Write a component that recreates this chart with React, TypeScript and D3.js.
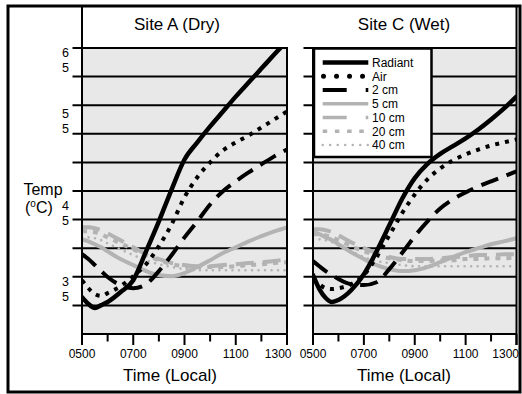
import React from "react";
import * as d3 from "d3";

// ---- data ----
const hours = [5, 5.25, 5.5, 5.75, 6, 6.5, 7, 7.5, 8, 8.5, 9, 9.5, 10, 10.5, 11, 11.5, 12, 12.5, 13];
const seriesNames = ["Radiant", "Air", "2 cm", "5 cm", "10 cm", "20 cm", "40 cm"];
const panelTitles = ["Site A (Dry)", "Site C (Wet)"];
const xTickValues = [5, 7, 9, 11, 13];
const xTickLabels = ["0500", "0700", "0900", "1100", "1300"];
const xMinorTicks = [6, 8, 10, 12];
const yGridValues = [1, 2, 3, 4, 5, 6, 7, 8, 9, 10];
const yTickLabels = ["65", "55", "45", "35"];
const yTickLabelPositions = [9.59, 7.45, 4.23, 1.57];

// Site A (Dry), values in chart grid units (0 = bottom, 10 = top)
const siteARadiant = [1.29, 1.05, 0.91, 1.01, 1.12, 1.46, 1.88, 2.89, 3.94, 5.06, 6.1, 6.7, 7.26, 7.78, 8.3, 8.79, 9.28, 9.77, 10.25];
const siteAAir = [1.88, 1.6, 1.4, 1.33, 1.43, 1.67, 2.02, 2.44, 3.07, 3.84, 4.78, 5.48, 6.0, 6.42, 6.7, 6.94, 7.22, 7.5, 7.78];
const siteA2cm = [2.79, 2.62, 2.41, 2.2, 1.99, 1.71, 1.6, 1.74, 2.2, 2.76, 3.38, 3.94, 4.53, 4.99, 5.34, 5.65, 5.93, 6.21, 6.45];
const siteA5cm = [3.31, 3.24, 3.14, 3.03, 2.89, 2.62, 2.41, 2.2, 2.06, 2.02, 2.13, 2.34, 2.58, 2.83, 3.03, 3.24, 3.42, 3.59, 3.73];
const siteA10cm = [3.73, 3.73, 3.7, 3.63, 3.52, 3.28, 3.03, 2.79, 2.62, 2.48, 2.41, 2.37, 2.37, 2.41, 2.44, 2.48, 2.51, 2.55, 2.62];
const siteA20cm = [3.59, 3.59, 3.56, 3.49, 3.38, 3.17, 2.96, 2.76, 2.58, 2.44, 2.37, 2.34, 2.34, 2.34, 2.37, 2.41, 2.44, 2.48, 2.51];
const siteA40cm = [3.38, 3.38, 3.35, 3.28, 3.17, 2.96, 2.76, 2.58, 2.44, 2.34, 2.27, 2.23, 2.23, 2.23, 2.23, 2.23, 2.23, 2.23, 2.23];

// Site C (Wet)
const siteCRadiant = [2.06, 1.57, 1.26, 1.12, 1.19, 1.53, 2.09, 2.89, 3.8, 4.72, 5.45, 5.95, 6.3, 6.57, 6.84, 7.15, 7.5, 7.88, 8.3];
const siteCAir = [1.92, 1.74, 1.6, 1.57, 1.6, 1.74, 2.06, 2.69, 3.45, 4.22, 4.88, 5.41, 5.79, 6.07, 6.28, 6.45, 6.59, 6.7, 6.8];
const siteC2cm = [2.55, 2.37, 2.2, 2.06, 1.92, 1.74, 1.71, 1.81, 2.27, 2.83, 3.42, 3.94, 4.39, 4.71, 4.95, 5.16, 5.34, 5.51, 5.69];
const siteC5cm = [3.56, 3.49, 3.38, 3.28, 3.14, 2.86, 2.62, 2.41, 2.27, 2.2, 2.23, 2.34, 2.51, 2.69, 2.86, 3.0, 3.14, 3.24, 3.35];
const siteC10cm = [3.66, 3.66, 3.63, 3.56, 3.45, 3.21, 3.0, 2.83, 2.69, 2.62, 2.62, 2.62, 2.65, 2.69, 2.72, 2.76, 2.76, 2.79, 2.79];
const siteC20cm = [3.49, 3.49, 3.45, 3.38, 3.28, 3.07, 2.89, 2.76, 2.65, 2.58, 2.55, 2.55, 2.58, 2.58, 2.62, 2.62, 2.65, 2.65, 2.69];
const siteC40cm = [3.31, 3.31, 3.28, 3.21, 3.1, 2.89, 2.69, 2.55, 2.48, 2.41, 2.37, 2.37, 2.37, 2.37, 2.37, 2.37, 2.37, 2.37, 2.37];

const siteASeries = [siteARadiant, siteAAir, siteA2cm, siteA5cm, siteA10cm, siteA20cm, siteA40cm];
const siteCSeries = [siteCRadiant, siteCAir, siteC2cm, siteC5cm, siteC10cm, siteC20cm, siteC40cm];

// ---- styles ----
const GRAY = "#b3b3b3";
const FONT = "'Liberation Sans', Arial, Helvetica, sans-serif";
type Sty = { stroke: string; width: number; dash?: string; cap?: "round" | "butt" | "square" };
const plotStyles: Sty[] = [
  { stroke: "#000", width: 4.5, cap: "round" },
  { stroke: "#000", width: 4, dash: "4 6" },
  { stroke: "#000", width: 4, dash: "18 9" },
  { stroke: GRAY, width: 4 },
  { stroke: GRAY, width: 4, dash: "18 9" },
  { stroke: GRAY, width: 4, dash: "5 6" },
  { stroke: GRAY, width: 2.6, dash: "0.01 6.5", cap: "round" },
];
const legendStyles: Sty[] = [
  { stroke: "#000", width: 4.3 },
  { stroke: "#000", width: 5, dash: "0.01 13", cap: "round" },
  { stroke: "#000", width: 3.8, dash: "24 19" },
  { stroke: GRAY, width: 3.6 },
  { stroke: GRAY, width: 3.6, dash: "24 19" },
  { stroke: GRAY, width: 3.6, dash: "4.5 7.7" },
  { stroke: GRAY, width: 2.5, dash: "0.01 7.5", cap: "round" },
];

const Y_TOP = 48;
const Y_BOT = 334;
const yScale = d3.scaleLinear().domain([0, 10]).range([Y_BOT, Y_TOP]);

const panels = [
  { title: panelTitles[0], x0: 82, x1: 287, series: siteASeries, titleX: 177, axisTitleX: 170, extendLeft: true, lastLabelEnd: 291.5 },
  { title: panelTitles[1], x0: 313, x1: 516.5, series: siteCSeries, titleX: 404, axisTitleX: 404, extendLeft: false, lastLabelEnd: 519 },
];

const drawOrder = [6, 5, 4, 3, 2, 1, 0];

function Panel({ p, idx }: { p: (typeof panels)[number]; idx: number }) {
  const x = d3.scaleLinear().domain([5, 13]).range([p.x0, p.x1]);
  const line = d3
    .line<number>()
    .x((_, i) => x(hours[i]))
    .y((d) => yScale(d))
    .curve(d3.curveMonotoneX);
  const clipId = `clip${idx}`;
  return (
    <g>
      <defs>
        <clipPath id={clipId}>
          <rect x={p.x0} y={Y_TOP} width={p.x1 - p.x0} height={Y_BOT - Y_TOP} />
        </clipPath>
      </defs>
      <rect x={p.x0} y={Y_TOP} width={p.x1 - p.x0} height={Y_BOT - Y_TOP} fill="#e8e8e8" />
      {yGridValues.map((v) => (
        <line key={v} x1={p.x0 - 9.5} x2={p.x1} y1={yScale(v)} y2={yScale(v)} stroke="#000" strokeWidth={2} />
      ))}
      <g clipPath={`url(#${clipId})`}>
        {drawOrder.map((si) => {
          const s = plotStyles[si];
          return (
            <path
              key={si}
              d={line(p.series[si]) || ""}
              fill="none"
              stroke={s.stroke}
              strokeWidth={s.width}
              strokeDasharray={s.dash}
              strokeLinecap={s.cap || "butt"}
              strokeLinejoin="round"
            />
          );
        })}
      </g>
      {/* axes frame */}
      <line x1={p.x0} x2={p.x1} y1={Y_BOT} y2={Y_BOT} stroke="#000" strokeWidth={2} />
      <line x1={p.x0} x2={p.x0} y1={p.extendLeft ? 6 : Y_TOP - 1} y2={345} stroke="#000" strokeWidth={2} />
      <line x1={p.x1} x2={p.x1} y1={p.extendLeft ? Y_TOP - 1 : 6} y2={345} stroke="#000" strokeWidth={2} />
      {xTickValues.map((v) => (
        <line key={v} x1={x(v)} x2={x(v)} y1={Y_BOT} y2={345} stroke="#000" strokeWidth={2} />
      ))}
      {xMinorTicks.map((v) => (
        <line key={v} x1={x(v)} x2={x(v)} y1={Y_BOT} y2={341.5} stroke="#000" strokeWidth={2} />
      ))}
      {xTickValues.map((v, i) => {
        const last = i === xTickValues.length - 1;
        return (
          <text
            key={v}
            x={last ? p.lastLabelEnd : x(v)}
            y={357.5}
            textAnchor={last ? "end" : "middle"}
            fontSize={12}
            fontFamily={FONT}
          >
            {xTickLabels[i]}
          </text>
        );
      })}
      <text x={p.titleX} y={30} textAnchor="middle" fontSize={17} fontFamily={FONT}>
        {p.title}
      </text>
      <text x={p.axisTitleX} y={381} textAnchor="middle" fontSize={17} fontFamily={FONT}>
        Time (Local)
      </text>
    </g>
  );
}

function Legend() {
  const lx0 = 322.7;
  const lx1 = 368.3;
  const y0 = 62.5;
  const step = 13.75;
  return (
    <g>
      <rect x={314} y={48.5} width={117.5} height={108.5} fill="#fff" stroke="#000" strokeWidth={2.5} />
      {seriesNames.map((n, i) => {
        const s = legendStyles[i];
        const yy = y0 + i * step;
        return (
          <g key={n}>
            <line
              x1={i === 1 ? 323.5 : lx0}
              x2={i === 1 ? 363 : lx1}
              y1={yy}
              y2={yy}
              stroke={s.stroke}
              strokeWidth={s.width}
              strokeDasharray={s.dash}
              strokeLinecap={s.cap || "butt"}
            />
            <text x={372} y={yy + 4.3} fontSize={12} fontFamily={FONT}>
              {n}
            </text>
          </g>
        );
      })}
    </g>
  );
}

export default function App() {
  return (
    <svg
      width={522}
      height={394}
      viewBox="0 0 522 394"
      style={{ position: "absolute", left: 0, top: 0, background: "#fff" }}
    >
      <rect x={0} y={0} width={522} height={394} fill="#fff" />
      {panels.map((p, i) => (
        <Panel key={i} p={p} idx={i} />
      ))}
      <Legend />
      {/* y tick labels (wrapped, two lines) */}
      {yTickLabels.map((lab, i) => {
        const cy = yScale(yTickLabelPositions[i]);
        return (
          <g key={lab}>
            <text x={65.5} y={cy - 7.5 + 4.5} textAnchor="middle" fontSize={12.5} fontFamily={FONT}>
              {lab[0]}
            </text>
            <text x={65.5} y={cy + 7.5 + 4.5} textAnchor="middle" fontSize={12.5} fontFamily={FONT}>
              {lab[1]}
            </text>
          </g>
        );
      })}
      <text x={43} y={195} textAnchor="middle" fontSize={16} fontFamily={FONT}>
        Temp
      </text>
      <text x={25} y={213} fontSize={16} fontFamily={FONT}>
        (<tspan fontSize={10} dy={-6}>o</tspan>
        <tspan dy={6}>C)</tspan>
      </text>
      <rect x={8} y={6} width={512} height={386} fill="none" stroke="#000" strokeWidth={3} />
    </svg>
  );
}
